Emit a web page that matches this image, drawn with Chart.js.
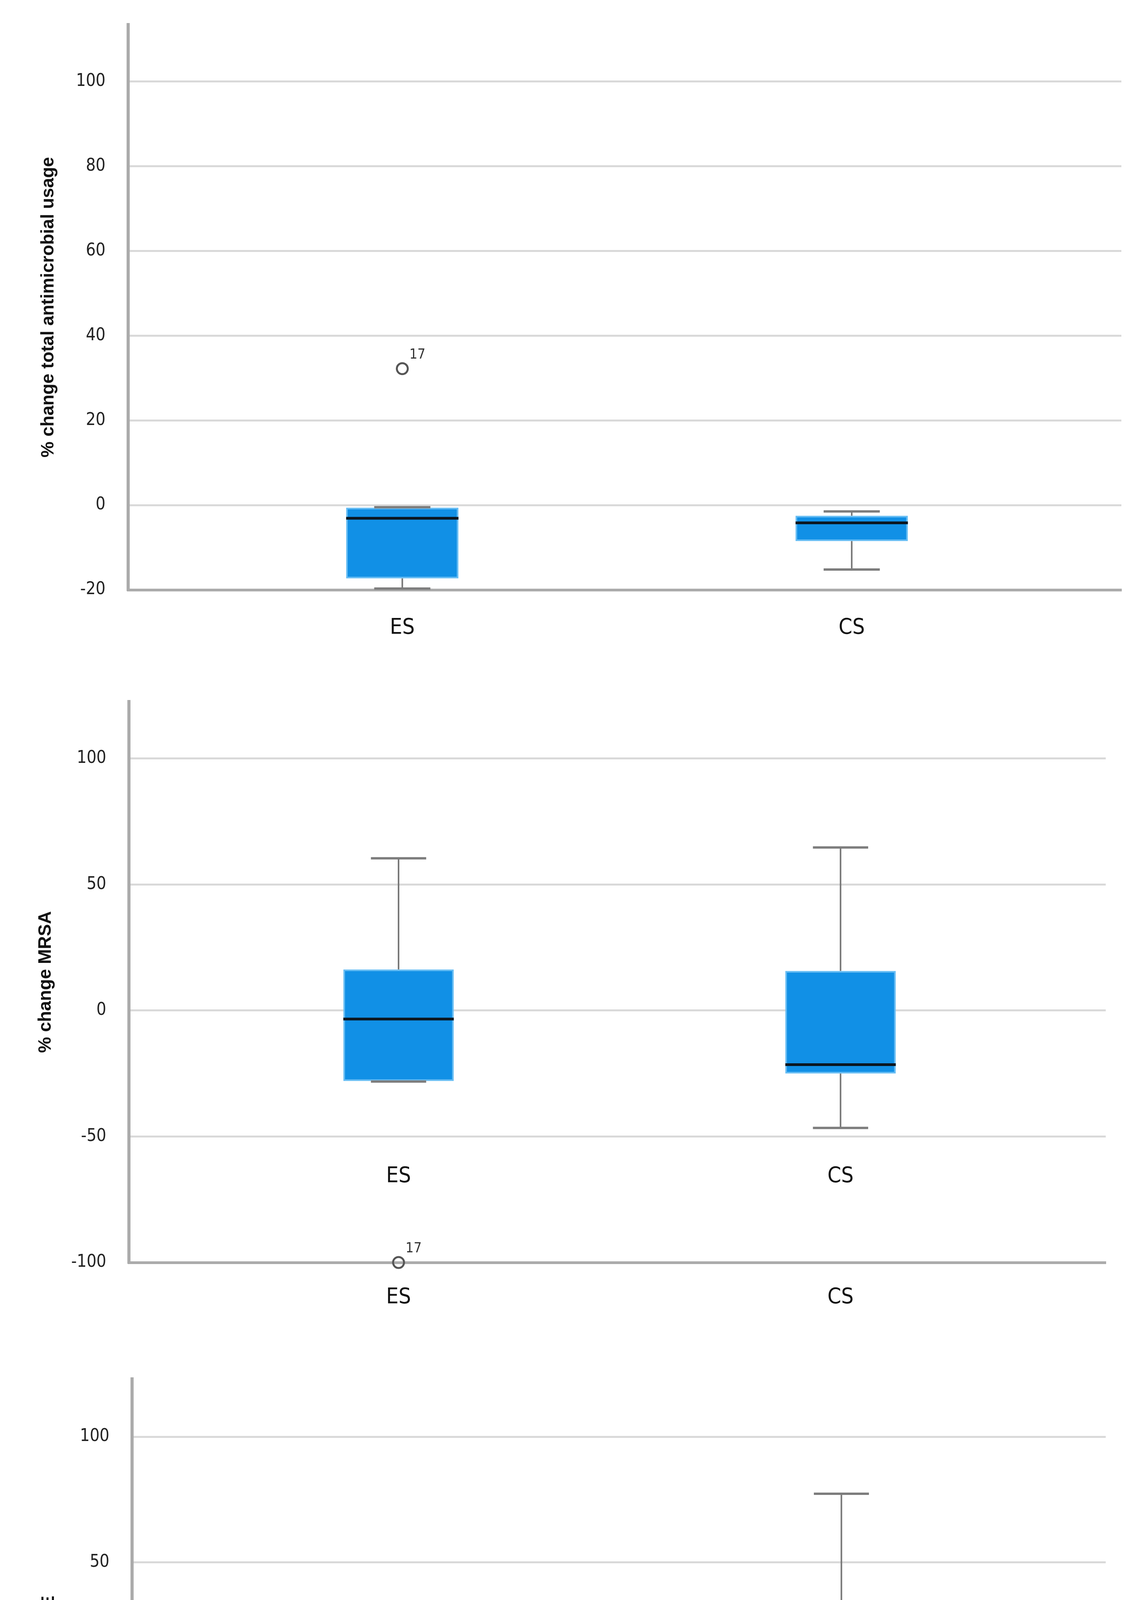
<!DOCTYPE html>
<html><head><meta charset="utf-8">
<script src="https://cdn.jsdelivr.net/npm/chart.js@4.4.1/dist/chart.umd.min.js"></script>
<style>
html,body{margin:0;padding:0;background:#fff;}
body{width:2910px;height:5096px;position:relative;overflow:hidden;}
canvas{position:absolute;left:0;}
</style></head><body>
<canvas id="c1" width="2910" height="1700" style="top:0px"></canvas>
<canvas id="c2" width="2910" height="1700" style="top:1700px"></canvas>
<canvas id="c3" width="2910" height="1696" style="top:3400px"></canvas>
<script>
// ---------- DATA ----------
const categories = ['ES', 'CS'];

// Panel 1: total antimicrobial usage
const usageTitle = '% change total antimicrobial usage';
const usageTicks = [-20, 0, 20, 40, 60, 80, 100];
const usageRange = [-20, 113.4];
const usageWhiskerLow = [-19.7, -15.2];
const usageQ1 = [-17.3, -8.5];
const usageMedian = [-3.1, -4.2];
const usageQ3 = [-0.6, -2.5];
const usageWhiskerHigh = [-0.5, -1.5];
const usageOutlierCats = ['ES'];
const usageOutlierValues = [32.2];
const usageOutlierIds = ['17'];

// Panel 2: MRSA
const mrsaTitle = '% change MRSA';
const mrsaTicks = [-100, -50, 0, 50, 100];
const mrsaRange = [-100, 122.6];
const mrsaWhiskerLow = [-28.2, -46.6];
const mrsaQ1 = [-28.0, -25.0];
const mrsaMedian = [-3.4, -21.5];
const mrsaQ3 = [16.3, 15.7];
const mrsaWhiskerHigh = [60.4, 64.7];
const mrsaOutlierCats = ['ES'];
const mrsaOutlierValues = [-100];
const mrsaOutlierIds = ['17'];

// Panel 3: CRE
const creTitle = '% change CRE';
const creTicks = [-100, -50, 0, 50, 100];
const creRange = [-100, 123.0];
const creWhiskerLow = [-49.4, -82.6];
const creQ1 = [-40.4, -53.6];
const creMedian = [-2.9, -23.2];
const creQ3 = [8.4, 4.5];
const creWhiskerHigh = [13.8, 77.3];
const creOutlierCats = [];
const creOutlierValues = [];
const creOutlierIds = [];

// ---------- STYLE ----------
Chart.defaults.animation = false;
Chart.defaults.devicePixelRatio = 1;
const NARROW = "'Liberation Sans Narrow','Arial Narrow','DejaVu Sans Condensed','Liberation Sans',Arial,sans-serif";
const SANS = "'Liberation Sans',Arial,sans-serif";
const BOX_FILL = '#1190e6';
const BOX_EDGE = '#66bdf4';

const boxPlugin = {
  id: 'boxWhiskers',
  afterDatasetsDraw(chart, args, opts) {
    const ctx = chart.ctx;
    const xs = chart.scales.x, ys = chart.scales.y;
    const meta = chart.getDatasetMeta(0);
    const s = opts.stats;
    ctx.save();
    s.median.forEach((m, i) => {
      const w = meta.data[i].width;
      const cx = xs.getPixelForValue(i + 1);
      const yQ1 = ys.getPixelForValue(s.q1[i]);
      const yQ3 = ys.getPixelForValue(s.q3[i]);
      const yLo = ys.getPixelForValue(s.low[i]);
      const yHi = ys.getPixelForValue(s.high[i]);
      ctx.strokeStyle = '#777777';
      ctx.lineWidth = 4;
      ctx.beginPath();
      ctx.moveTo(cx, yQ3); ctx.lineTo(cx, yHi);
      ctx.moveTo(cx, yQ1); ctx.lineTo(cx, yLo);
      ctx.stroke();
      ctx.strokeStyle = '#7d7d7d';
      ctx.lineWidth = 6;
      ctx.beginPath();
      ctx.moveTo(cx - w / 4, yHi); ctx.lineTo(cx + w / 4, yHi);
      ctx.moveTo(cx - w / 4, yLo); ctx.lineTo(cx + w / 4, yLo);
      ctx.stroke();
      const yM = ys.getPixelForValue(m);
      ctx.strokeStyle = '#0b1620';
      ctx.lineWidth = 7;
      ctx.beginPath();
      ctx.moveTo(cx - w / 2, yM); ctx.lineTo(cx + w / 2, yM);
      ctx.stroke();
    });
    // outlier case labels
    const om = chart.getDatasetMeta(1);
    ctx.fillStyle = '#333333';
    ctx.font = '36px ' + NARROW;
    ctx.textAlign = 'left';
    ctx.textBaseline = 'middle';
    (opts.ids || []).forEach((id, j) => {
      const p = om.data[j];
      if (p) ctx.fillText(id, p.x + 18, p.y - 35);
    });
    ctx.restore();
  }
};

function xTicksOnly(scale) {
  scale.ticks = categories.map((c, i) => ({ value: i + 1 }));
}

function makeChart(id, cfg) {
  const scales = {
    x: {
      type: 'linear',
      offset: false,
      min: 0.39, max: 2.6,
      afterBuildTicks: xTicksOnly,
      afterFit: s => { s.height = cfg.xAxisHeight; s.paddingLeft = 0; s.paddingRight = 0; },
      grid: { display: false, drawTicks: false, offset: false },
      border: { display: true, color: '#ababab', width: 7 },
      ticks: {
        padding: cfg.xPad,
        color: '#111',
        font: { family: NARROW, size: 56 },
        callback: v => categories[v - 1] || ''
      }
    },
    y: {
      type: 'linear',
      min: cfg.range[0], max: cfg.range[1],
      afterBuildTicks: s => { s.ticks = cfg.ticks.map(v => ({ value: v })); },
      afterFit: s => { s.width = cfg.axisX; s.paddingTop = 0; s.paddingBottom = 0; },
      grid: { color: '#d9d9d9', lineWidth: 5, drawTicks: false },
      border: { display: true, color: '#ababab', width: 8 },
      ticks: { padding: 58, color: '#222', font: { family: NARROW, size: 44 } },
      title: {
        display: true, text: cfg.title, color: '#111',
        font: { family: SANS, size: 46, weight: 'bold' },
        padding: { top: cfg.titlePad, bottom: 0 }
      }
    }
  };
  if (cfg.innerAxisAt !== undefined) {
    scales.x2 = {
      type: 'linear', axis: 'x',
      offset: false,
      position: { y: cfg.innerAxisAt },
      min: 0.39, max: 2.6,
      afterBuildTicks: xTicksOnly,
      afterFit: s => { s.paddingLeft = 0; s.paddingRight = 0; },
      grid: { display: false, drawTicks: false, offset: false },
      border: { display: false },
      ticks: {
        padding: cfg.xPad, color: '#111',
        font: { family: NARROW, size: 56 },
        callback: v => categories[v - 1] || ''
      }
    };
  }
  return new Chart(document.getElementById(id), {
    type: 'bar',
    data: {
      datasets: [
        {
          type: 'bar',
          data: categories.map((c, i) => ({ x: i + 1, y: [cfg.q1[i], cfg.q3[i]] })),
          backgroundColor: BOX_FILL,
          borderColor: BOX_EDGE,
          borderWidth: 4,
          borderSkipped: false,
          barPercentage: 0.25,
          categoryPercentage: 1,
          grouped: false
        },
        {
          type: 'scatter',
          data: cfg.outCats.map((c, j) => ({ x: categories.indexOf(c) + 1, y: cfg.outVals[j] })),
          pointStyle: 'circle',
          pointRadius: 14,
          borderWidth: 5,
          borderColor: '#555555',
          backgroundColor: 'rgba(255,255,255,0)',
          clip: false
        }
      ]
    },
    options: {
      responsive: false,
      maintainAspectRatio: false,
      layout: { padding: { left: 0, top: cfg.top, right: cfg.right, bottom: 0 } },
      scales: scales,
      plugins: {
        legend: { display: false },
        tooltip: { enabled: false },
        boxWhiskers: {
          stats: { low: cfg.low, q1: cfg.q1, median: cfg.median, q3: cfg.q3, high: cfg.high },
          ids: cfg.outIds
        }
      }
    },
    plugins: [boxPlugin]
  });
}

makeChart('c1', {
  title: usageTitle, ticks: usageTicks, range: usageRange,
  low: usageWhiskerLow, q1: usageQ1, median: usageMedian, q3: usageQ3, high: usageWhiskerHigh,
  outCats: usageOutlierCats, outVals: usageOutlierValues, outIds: usageOutlierIds,
  top: 63, right: 40, axisX: 328, xAxisHeight: 190, xPad: 64, titlePad: 97
});
makeChart('c2', {
  title: mrsaTitle, ticks: mrsaTicks, range: mrsaRange,
  low: mrsaWhiskerLow, q1: mrsaQ1, median: mrsaMedian, q3: mrsaQ3, high: mrsaWhiskerHigh,
  outCats: mrsaOutlierCats, outVals: mrsaOutlierValues, outIds: mrsaOutlierIds,
  top: 96, right: 80, axisX: 330, xAxisHeight: 168, xPad: 56, titlePad: 90,
  innerAxisAt: -52
});
makeChart('c3', {
  title: creTitle, ticks: creTicks, range: creRange,
  low: creWhiskerLow, q1: creQ1, median: creMedian, q3: creQ3, high: creWhiskerHigh,
  outCats: creOutlierCats, outVals: creOutlierValues, outIds: creOutlierIds,
  top: 130, right: 80, axisX: 338, xAxisHeight: 131, xPad: 56, titlePad: 98
});
</script>
</body></html>
